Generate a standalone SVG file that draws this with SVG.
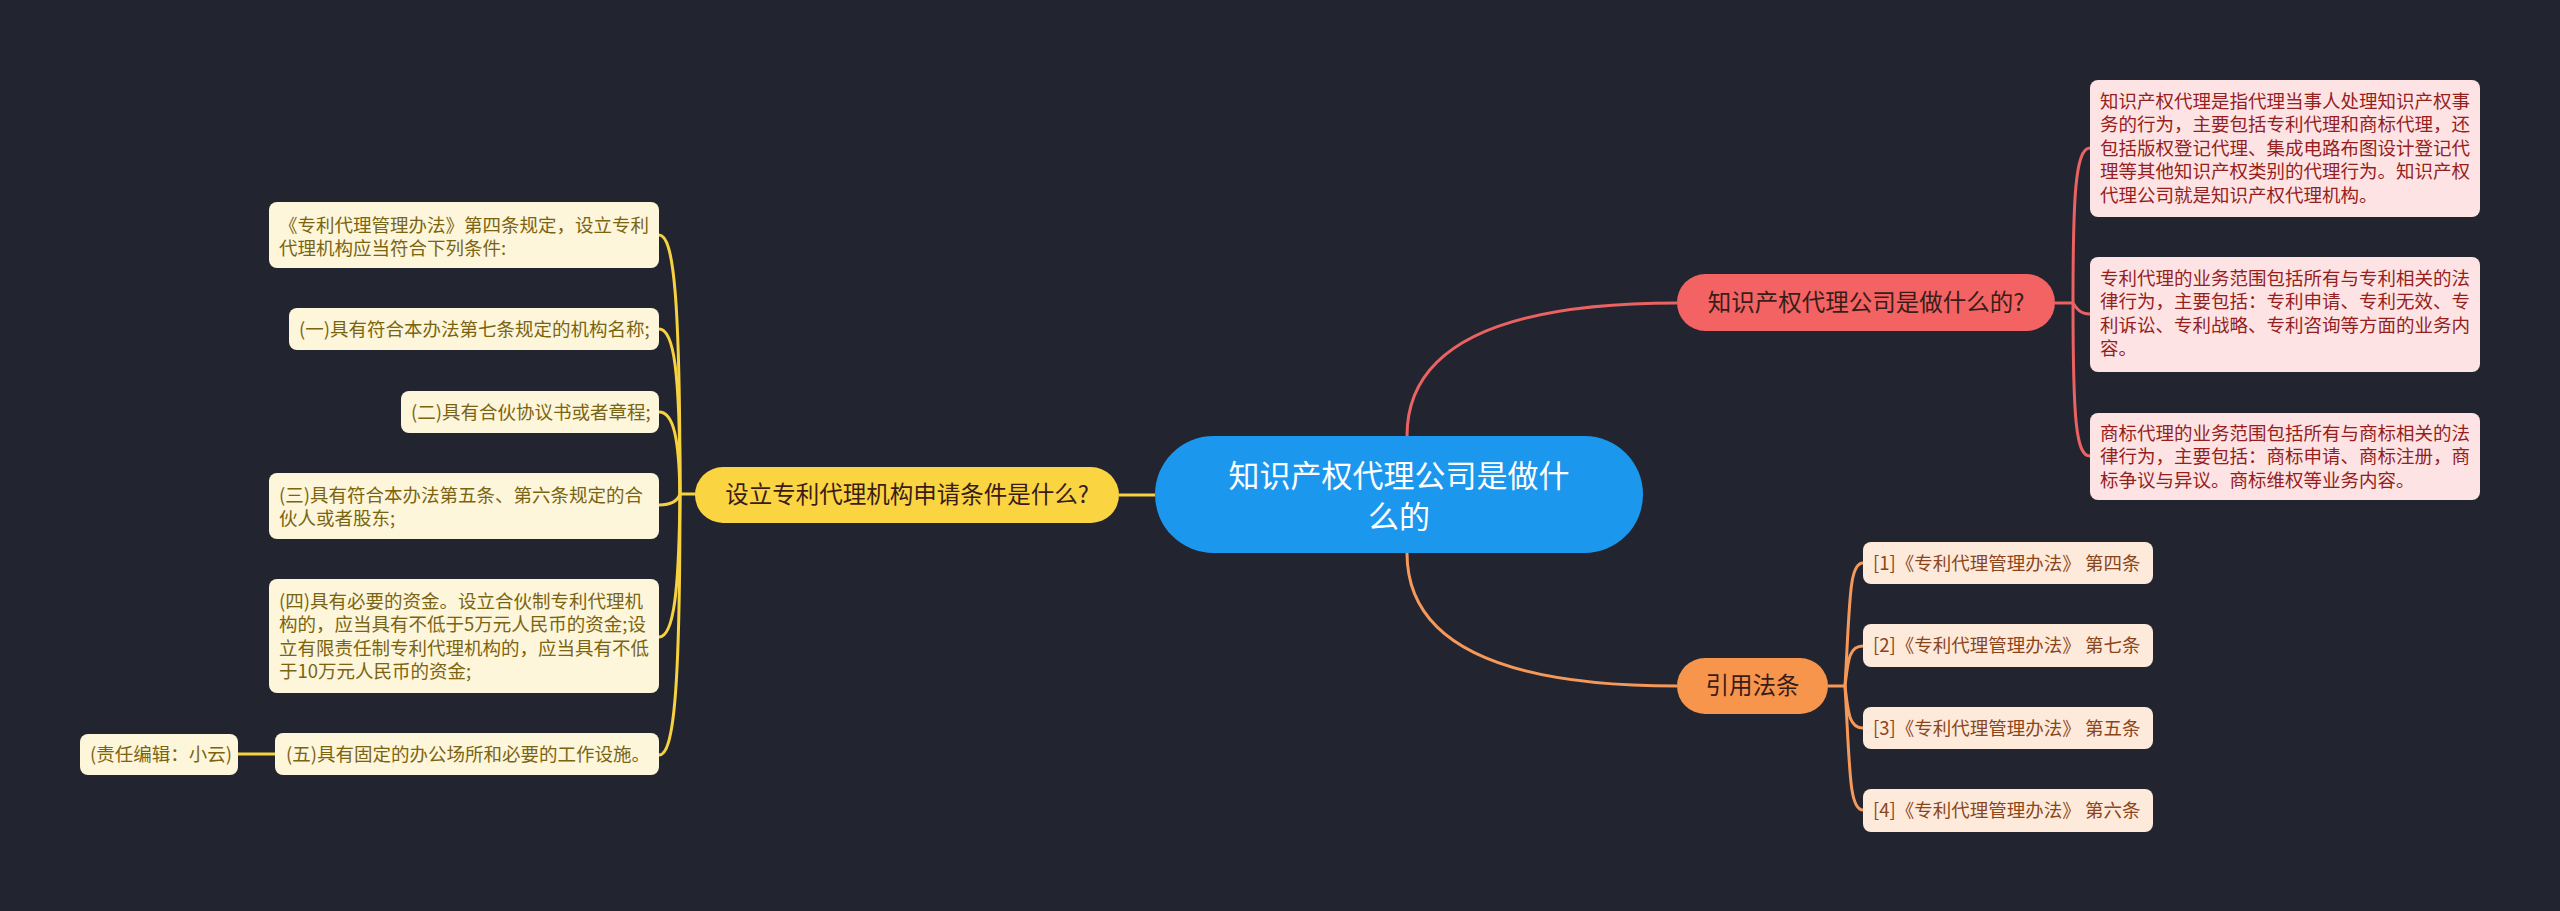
<svg xmlns="http://www.w3.org/2000/svg" width="2560" height="911" viewBox="0 0 2560 911">
<style>
text{font-family:"Noto Sans CJK SC","Noto Sans",sans-serif}
.conn{fill:none;stroke-width:3}
.cr{stroke:#ea6262}
.co{stroke:#f5995a}
.cy{stroke:#f6d140}
.main{fill:#1b97ee}
.mt{fill:#ffffff;font-size:31px}
.br{fill:#f46363}
.bo{fill:#f8954d}
.by{fill:#fbd541}
.bt{fill:#3a1d18;font-size:23.5px}
.rc{fill:#fde3e3}
.rt{fill:#951e1e;font-size:18.5px}
.oc{fill:#feeadb}
.ot{fill:#8a461a;font-size:18.5px}
.yc{fill:#fef6da}
.yt{fill:#7a6412;font-size:18.5px}
</style>
<rect width="2560" height="911" fill="#22252f"/>
<g id="connectors">
<path class="conn cr" d="M1407,436 Q1407,303 1677,303"/>
<path class="conn co" d="M1407,553 Q1407,686 1677,686"/>
<path class="conn cy" d="M1155,495 L1119,495"/>
<path class="conn cr" d="M2055,303 L2073,303 C2073,200 2075,148 2090,148"/>
<path class="conn cr" d="M2073,303 C2076,308 2080,314 2090,314"/>
<path class="conn cr" d="M2073,303 C2073,420 2076,456 2090,456"/>
<path class="conn co" d="M1828,686 L1845,686 C1850,600 1849,563 1863,563"/>
<path class="conn co" d="M1845,686 C1848,660 1849,646 1863,646"/>
<path class="conn co" d="M1845,686 C1848,712 1849,728 1863,728"/>
<path class="conn co" d="M1845,686 C1850,770 1849,810 1863,810"/>
<path class="conn cy" d="M696,494 L680,494 C680,300 674,235 659,235"/>
<path class="conn cy" d="M680,494 C680,370 674,329 659,329"/>
<path class="conn cy" d="M680,494 C679,440 674,412 659,412"/>
<path class="conn cy" d="M680,494 C678,500 672,505 659,505"/>
<path class="conn cy" d="M680,494 C679,590 674,637 659,637"/>
<path class="conn cy" d="M680,494 C680,690 674,755 659,755"/>
<path class="conn cy" d="M238,754 L275,754"/>
</g>
<g id="root">
<rect class="main" x="1155" y="436" width="488" height="117" rx="58.5"/>
<text class="mt" x="1399" y="487" text-anchor="middle">知识产权代理公司是做什</text>
<text class="mt" x="1399" y="528" text-anchor="middle">么的</text>
</g>
<g id="b-red">
<rect class="br" x="1677" y="274" width="378" height="57" rx="28.5"/>
<text class="bt" x="1866" y="311" text-anchor="middle">知识产权代理公司是做什么的?</text>
</g>
<g id="r1">
<rect class="rc" x="2090" y="80" width="390" height="137" rx="8"/>
<text class="rt" x="2100" y="108">知识产权代理是指代理当事人处理知识产权事<tspan x="2100" dy="23.4">务的行为，主要包括专利代理和商标代理，还</tspan><tspan x="2100" dy="23.4">包括版权登记代理、集成电路布图设计登记代</tspan><tspan x="2100" dy="23.4">理等其他知识产权类别的代理行为。知识产权</tspan><tspan x="2100" dy="23.4">代理公司就是知识产权代理机构。</tspan></text>
</g>
<g id="r2">
<rect class="rc" x="2090" y="257" width="390" height="115" rx="8"/>
<text class="rt" x="2100" y="285">专利代理的业务范围包括所有与专利相关的法<tspan x="2100" dy="23.4">律行为，主要包括：专利申请、专利无效、专</tspan><tspan x="2100" dy="23.4">利诉讼、专利战略、专利咨询等方面的业务内</tspan><tspan x="2100" dy="23.4">容。</tspan></text>
</g>
<g id="r3">
<rect class="rc" x="2090" y="413" width="390" height="87" rx="8"/>
<text class="rt" x="2100" y="440">商标代理的业务范围包括所有与商标相关的法<tspan x="2100" dy="23.4">律行为，主要包括：商标申请、商标注册，商</tspan><tspan x="2100" dy="23.4">标争议与异议。商标维权等业务内容。</tspan></text>
</g>
<g id="b-orange">
<rect class="bo" x="1677" y="658" width="151" height="56" rx="28"/>
<text class="bt" x="1752.5" y="694" text-anchor="middle">引用法条</text>
</g>
<g id="o1">
<rect class="oc" x="1863" y="542" width="290" height="42" rx="8"/>
<text class="ot" x="1873" y="570">[1]《专利代理管理办法》 第四条</text>
</g>
<g id="o2">
<rect class="oc" x="1863" y="624" width="290" height="43" rx="8"/>
<text class="ot" x="1873" y="652">[2]《专利代理管理办法》 第七条</text>
</g>
<g id="o3">
<rect class="oc" x="1863" y="707" width="290" height="42" rx="8"/>
<text class="ot" x="1873" y="735">[3]《专利代理管理办法》 第五条</text>
</g>
<g id="o4">
<rect class="oc" x="1863" y="789" width="290" height="43" rx="8"/>
<text class="ot" x="1873" y="817">[4]《专利代理管理办法》 第六条</text>
</g>
<g id="b-yellow">
<rect class="by" x="695" y="467" width="424" height="56" rx="28"/>
<text class="bt" x="907" y="503" text-anchor="middle">设立专利代理机构申请条件是什么?</text>
</g>
<g id="y1">
<rect class="yc" x="269" y="202" width="390" height="66" rx="8"/>
<text class="yt" x="279" y="232">《专利代理管理办法》第四条规定，设立专利<tspan x="279" dy="23.4">代理机构应当符合下列条件:</tspan></text>
</g>
<g id="y2">
<rect class="yc" x="289" y="308" width="370" height="42" rx="8"/>
<text class="yt" x="299" y="336">(一)具有符合本办法第七条规定的机构名称;</text>
</g>
<g id="y3">
<rect class="yc" x="401" y="391" width="258" height="42" rx="8"/>
<text class="yt" x="411" y="419">(二)具有合伙协议书或者章程;</text>
</g>
<g id="y4">
<rect class="yc" x="269" y="473" width="390" height="66" rx="8"/>
<text class="yt" x="279" y="502">(三)具有符合本办法第五条、第六条规定的合<tspan x="279" dy="23.4">伙人或者股东;</tspan></text>
</g>
<g id="y5">
<rect class="yc" x="269" y="579" width="390" height="114" rx="8"/>
<text class="yt" x="279" y="608">(四)具有必要的资金。设立合伙制专利代理机<tspan x="279" dy="23.4">构的，应当具有不低于5万元人民币的资金;设</tspan><tspan x="279" dy="23.4">立有限责任制专利代理机构的，应当具有不低</tspan><tspan x="279" dy="23.4">于10万元人民币的资金;</tspan></text>
</g>
<g id="y6">
<rect class="yc" x="275" y="733" width="384" height="42" rx="8"/>
<text class="yt" x="286" y="761">(五)具有固定的办公场所和必要的工作设施。</text>
</g>
<g id="y7">
<rect class="yc" x="80" y="734" width="158" height="41" rx="8"/>
<text class="yt" x="90" y="761">(责任编辑：小云)</text>
</g>
</svg>
